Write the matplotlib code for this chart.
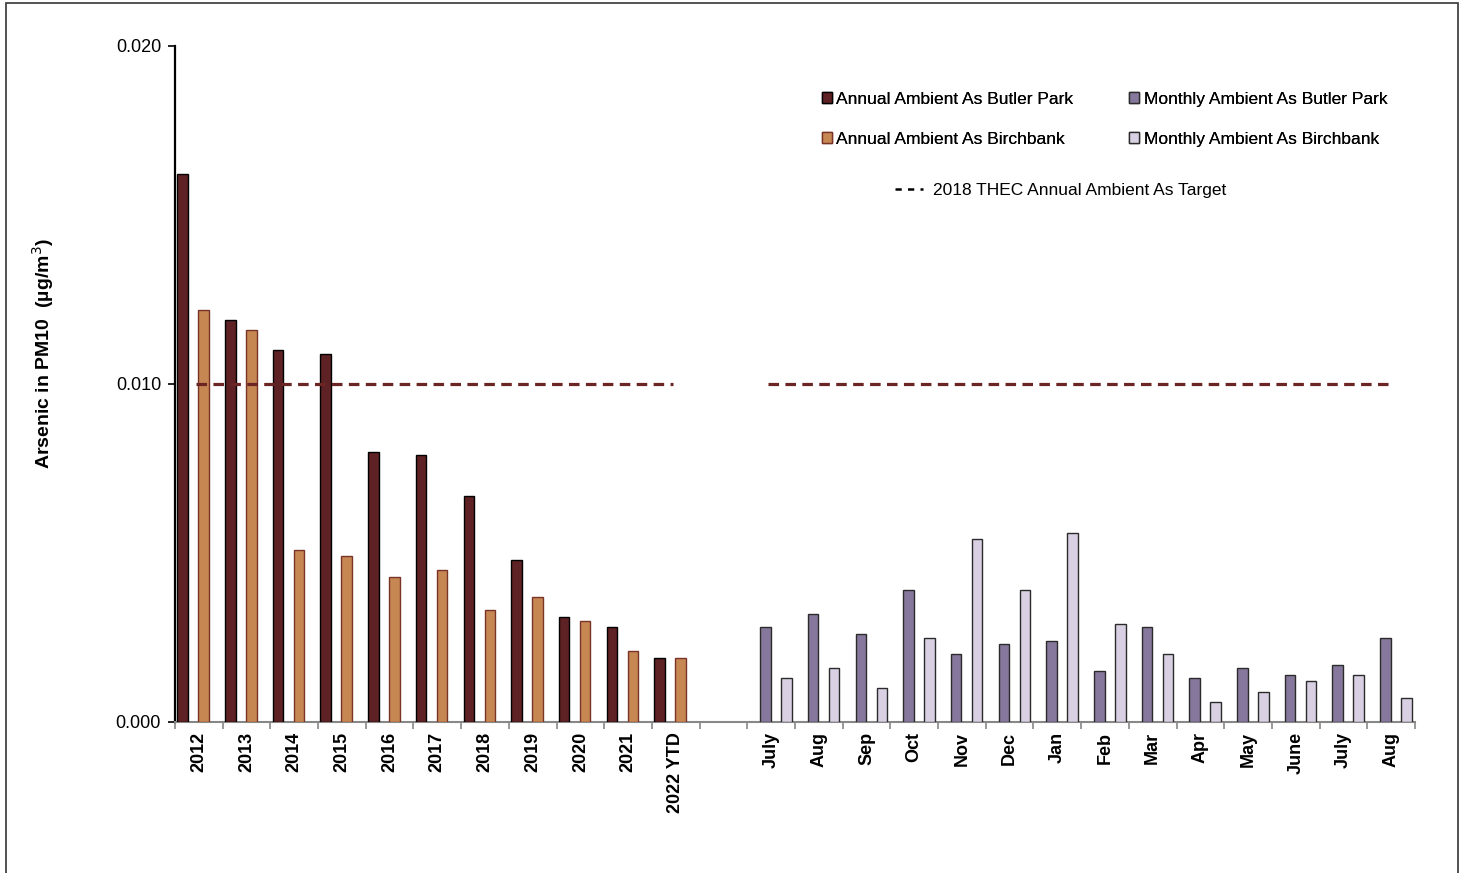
import numpy as np
import matplotlib.pyplot as plt
from matplotlib.patches import Rectangle, Patch
from matplotlib.lines import Line2D

plt.rcParams['font.family'] = ['Liberation Sans', 'DejaVu Sans']

# Categorías (con un hueco vacío entre los anuales y los mensuales)
categorias = ['2012', '2013', '2014', '2015', '2016', '2017', '2018', '2019',
              '2020', '2021', '2022 YTD', '',
              'July', 'Aug', 'Sep', 'Oct', 'Nov', 'Dec', 'Jan', 'Feb', 'Mar',
              'Apr', 'May', 'June', 'July', 'Aug']

anual_butler = [0.0162, 0.0119, 0.0110, 0.0109, 0.0080, 0.0079, 0.0067,
                0.0048, 0.0031, 0.0028, 0.0019]
anual_birchbank = [0.0122, 0.0116, 0.0051, 0.0049, 0.0043, 0.0045, 0.0033,
                   0.0037, 0.0030, 0.0021, 0.0019]
mensual_butler = [0.0028, 0.0032, 0.0026, 0.0039, 0.0020, 0.0023, 0.0024,
                  0.0015, 0.0028, 0.0013, 0.0016, 0.0014, 0.0017, 0.0025]
mensual_birchbank = [0.0013, 0.0016, 0.0010, 0.0025, 0.0054, 0.0039, 0.0056,
                     0.0029, 0.0020, 0.0006, 0.0009, 0.0012, 0.0014, 0.0007]
objetivo = 0.010

n = len(categorias)
x = np.arange(n)
x_anual = x[:11]
x_mensual = x[12:]
ancho = 0.22

fig = plt.figure(figsize=(14.65, 8.73), dpi=100)
ax = fig.add_axes([175 / 1465, 151 / 873, 1240 / 1465, 676 / 873])

# Barras: 4 series agrupadas como en Excel
desp = -0.01
ax.bar(x_anual - 1.5 * ancho + desp, anual_butler, ancho, color='#5E2124',
       edgecolor='black', linewidth=1.0, zorder=3)
ax.bar(x_anual + 0.5 * ancho + desp, anual_birchbank, ancho, color='#C68752',
       edgecolor='#7A3328', linewidth=1.0, zorder=3)
ax.bar(x_mensual - 0.5 * ancho + desp, mensual_butler, ancho, color='#86779C',
       edgecolor='#2B2B2B', linewidth=1.0, zorder=3)
ax.bar(x_mensual + 1.5 * ancho + desp, mensual_birchbank, ancho, color='#D9D0E3',
       edgecolor='#2B2B2B', linewidth=1.0, zorder=3)

# Línea objetivo (cortada en el hueco)
linea = np.full(n, objetivo)
linea[11] = np.nan
ax.plot(x - 0.06, linea, color='#6B2525', linewidth=2.3, dashes=(3.3, 2.0),
        zorder=4)

ax.set_xlim(-0.5, n - 0.5)
ax.set_ylim(0, 0.020)
ax.set_yticks([0.0, 0.010, 0.020])
ax.set_yticklabels(['0.000', '0.010', '0.020'], fontsize=13)

ax.set_xticks(x)
ax.set_xticklabels(categorias, rotation=90, fontsize=13, fontweight='bold')
ax.tick_params(axis='x', length=0, pad=7)
ax.set_xticks(np.arange(-0.5, n, 1), minor=True)
ax.tick_params(axis='x', which='minor', length=5, color='#888888', width=1.2)
ax.tick_params(axis='y', length=5, width=1.2, pad=5)

for lado in ['top', 'right']:
    ax.spines[lado].set_visible(False)
ax.spines['left'].set_linewidth(1.6)
ax.spines['bottom'].set_color('#888888')
ax.spines['bottom'].set_linewidth(1.5)

fig.text(43 / 1465, 1 - 354 / 873, 'Arsenic in PM10  (µg/m$^3$)', rotation=90,
         ha='center', va='center', fontsize=14, fontweight='bold')

# Leyenda
manejadores = [
    Patch(facecolor='#5E2124', edgecolor='black'),
    Patch(facecolor='#C68752', edgecolor='#7A3328'),
    Patch(facecolor='#86779C', edgecolor='#2B2B2B'),
    Patch(facecolor='#D9D0E3', edgecolor='#2B2B2B'),
]
etiquetas = ['Annual Ambient As Butler Park', 'Annual Ambient As Birchbank',
             'Monthly Ambient As Butler Park', 'Monthly Ambient As Birchbank']
leg = fig.legend(manejadores, etiquetas, ncol=2, frameon=False, fontsize=12.5,
                 loc='upper left', bbox_to_anchor=(806 / 1465, 1 - 76 / 873),
                 handlelength=0.6, handleheight=0.6, handletextpad=0.25,
                 columnspacing=3.2, labelspacing=1.45)
fig.add_artist(leg)
fig.legend([Line2D([0], [0], color='black', linewidth=1.8, dashes=(2.5, 2.5))],
           ['2018 THEC Annual Ambient As Target'], frameon=False, fontsize=12.5,
           loc='upper left', bbox_to_anchor=(879 / 1465, 1 - 167 / 873),
           handlelength=1.65, handletextpad=0.55)

# Marco exterior
fig.patches.append(Rectangle((6 / 1465, -0.02), 1452 / 1465, 1.0166,
                             transform=fig.transFigure, fill=False,
                             edgecolor='#444444', linewidth=1.3))

fig.savefig('out.png', dpi=100)
